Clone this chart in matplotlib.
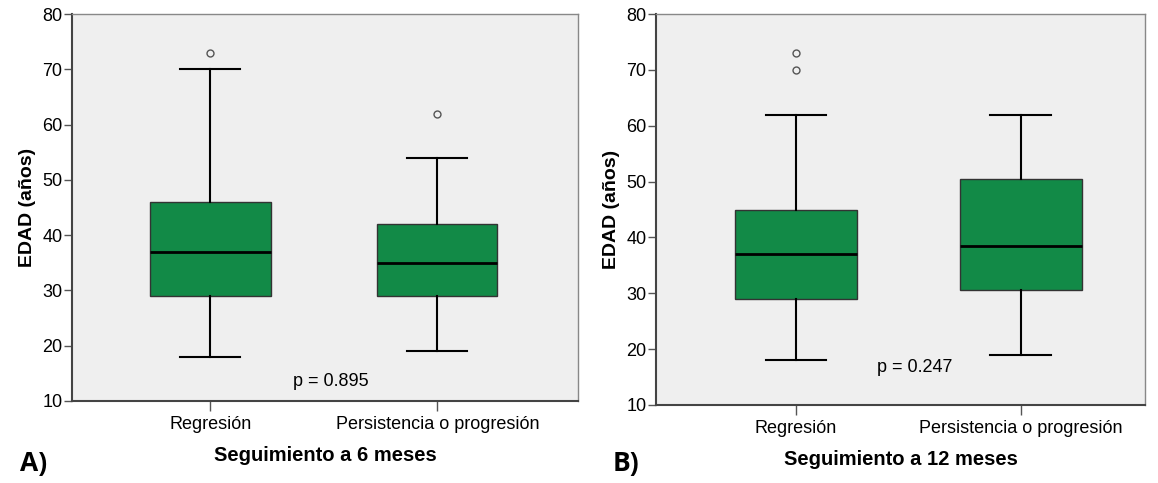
import matplotlib
matplotlib.use("Agg")
import matplotlib.pyplot as plt

plt.rcParams['font.family'] = ['Liberation Sans', 'DejaVu Sans']

categories = ["Regresión", "Persistencia o progresión"]

# 6 months: whisker low, Q1, median, Q3, whisker high, outliers
low_6 = [18, 19]
q1_6 = [29, 29]
med_6 = [37, 35]
q3_6 = [46, 42]
high_6 = [70, 54]
fliers_6 = [[73], [62]]

# 12 months
low_12 = [18, 19]
q1_12 = [29, 30.5]
med_12 = [37, 38.5]
q3_12 = [45, 50.5]
high_12 = [62, 62]
fliers_12 = [[73, 70], []]

p_values = ["p = 0.895", "p = 0.247"]
xlabels = ["Seguimiento a 6 meses", "Seguimiento a 12 meses"]
panel_tags = ["A)", "B)"]

GREEN = "#128A47"
BG = "#EFEFEF"


def make_stats(low, q1, med, q3, high, fliers):
    return [dict(whislo=low[i], q1=q1[i], med=med[i], q3=q3[i], whishi=high[i],
                 fliers=fliers[i], label=categories[i]) for i in range(len(categories))]


fig = plt.figure(figsize=(11.58, 4.83), dpi=100)
ax1 = fig.add_axes([0.0622, 0.1698, 0.4369, 0.8012])
ax2 = fig.add_axes([0.5665, 0.1615, 0.4223, 0.8095])

panels = [
    (ax1, make_stats(low_6, q1_6, med_6, q3_6, high_6, fliers_6), (0.39, 2.62), 0.53, 13.6),
    (ax2, make_stats(low_12, q1_12, med_12, q3_12, high_12, fliers_12), (0.378, 2.552), 0.54, 16.8),
]

for i, (ax, stats, xl, bw, py) in enumerate(panels):
    ax.set_facecolor(BG)
    ax.bxp(stats, positions=[1, 2], widths=bw, patch_artist=True,
           boxprops=dict(facecolor=GREEN, edgecolor="#333333", linewidth=1),
           medianprops=dict(color="black", linewidth=2),
           whiskerprops=dict(color="black", linewidth=1.5),
           capprops=dict(color="black", linewidth=1.5),
           capwidths=bw / 2,
           flierprops=dict(marker="o", markersize=5, markerfacecolor="none",
                           markeredgecolor="#555555", markeredgewidth=1))
    ax.set_xlim(*xl)
    ax.set_ylim(10, 80)
    ax.set_yticks(range(10, 81, 10))
    ax.set_xticks([1, 2])
    ax.set_xticklabels(categories, fontsize=13)
    ax.tick_params(axis="y", labelsize=13, length=6, width=1, color="#555555", pad=1)
    ax.tick_params(axis="x", length=7, width=1, color="#555555", pad=4)
    for sp in ax.spines.values():
        sp.set_color("#888888")
        sp.set_linewidth(1)
    ax.spines["left"].set_color("#444444")
    ax.spines["bottom"].set_color("#444444")
    ax.spines["left"].set_linewidth(1.5)
    ax.spines["bottom"].set_linewidth(1.5)
    ax.set_ylabel("EDAD (años)", fontsize=14, fontweight="bold", labelpad=4)
    ax.set_xlabel(xlabels[i], fontsize=14.5, fontweight="bold", labelpad=9)
    ax.text(1.53, py, p_values[i], fontsize=13, ha="center", va="center")

fig.text(20 / 1158, 1 - 463 / 483, panel_tags[0], fontsize=19, fontweight="bold",
         family=["Open Sans", "DejaVu Sans"], va="center", ha="left")
fig.text(613 / 1158, 1 - 463 / 483, panel_tags[1], fontsize=19, fontweight="bold",
         family=["Open Sans", "DejaVu Sans"], va="center", ha="left")

fig.savefig("out.png", dpi=100)
